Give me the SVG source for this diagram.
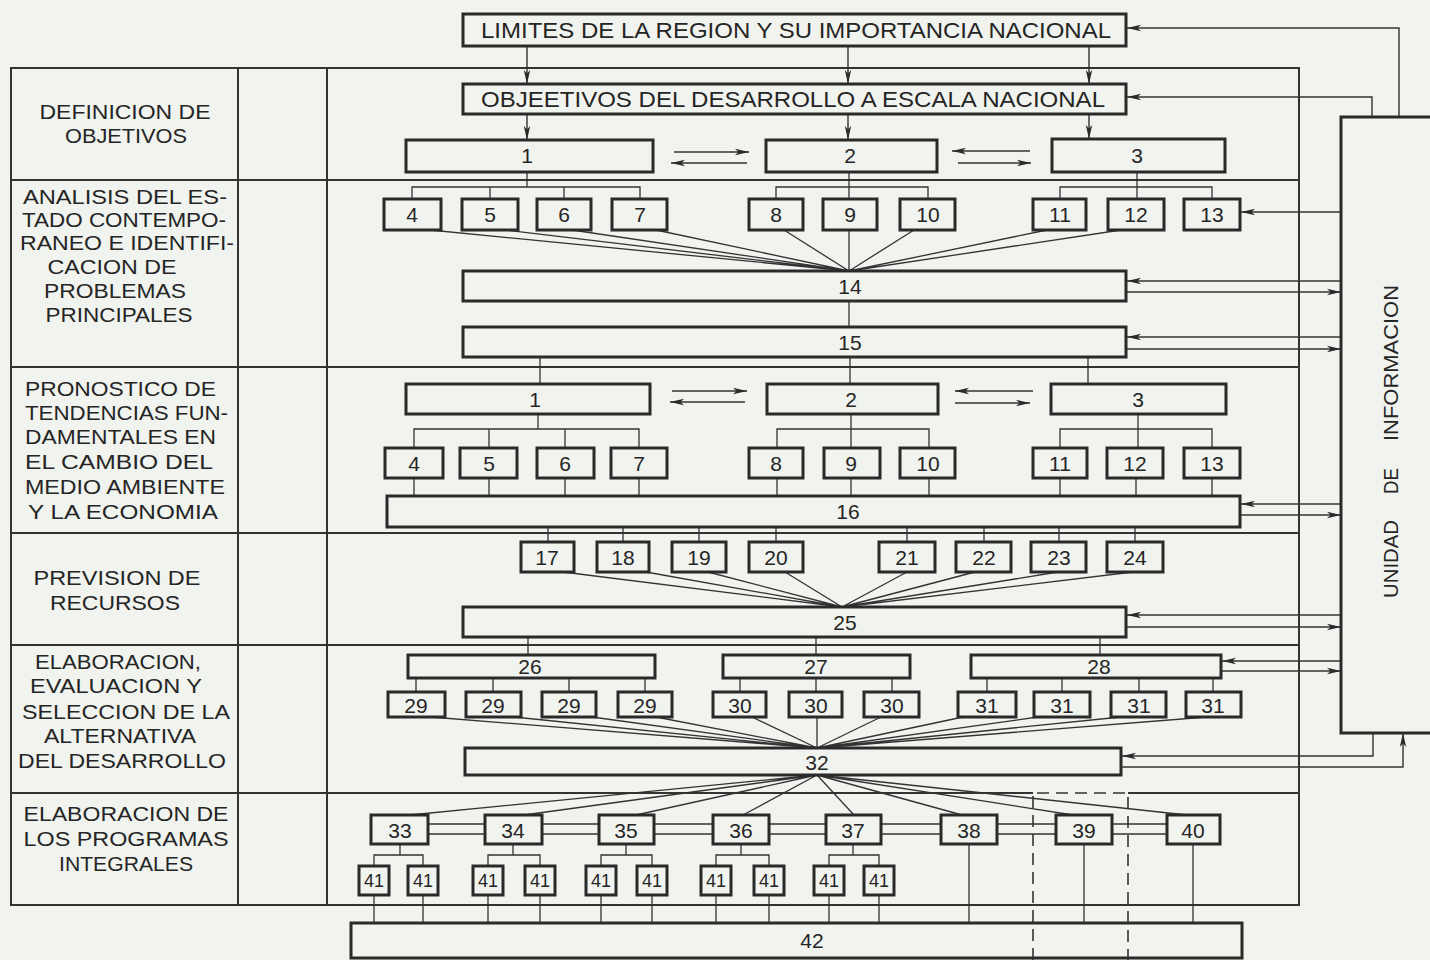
<svg xmlns="http://www.w3.org/2000/svg" width="1430" height="960" viewBox="0 0 1430 960">
<style>
.bg{fill:#f1f3ef}
.box{fill:none;stroke:#2a2a2a;stroke-width:3}
.tbl{fill:none;stroke:#333;stroke-width:2}
.ln{fill:none;stroke:#333;stroke-width:1.3}
.ar{fill:none;stroke:#333;stroke-width:1.4;marker-end:url(#ah)}
.dash{fill:none;stroke:#333;stroke-width:1.6;stroke-dasharray:12 7}
.lbl{font-family:"Liberation Sans",Arial,sans-serif;font-size:20px;fill:#252525;text-anchor:middle}
.lft{font-family:"Liberation Sans",Arial,sans-serif;font-size:20px;fill:#252525}
.big{font-family:"Liberation Sans",Arial,sans-serif;font-size:22px;fill:#252525;text-anchor:middle}
.num{font-family:"Liberation Sans",Arial,sans-serif;font-size:21px;fill:#252525;text-anchor:middle}
.sm{font-family:"Liberation Sans",Arial,sans-serif;font-size:18px;fill:#252525;text-anchor:middle}
.vt{font-family:"Liberation Sans",Arial,sans-serif;font-size:21px;fill:#252525;text-anchor:middle}
</style>
<defs>
<marker id="ah" viewBox="0 0 14 8" refX="14" refY="4" markerWidth="14" markerHeight="8" markerUnits="userSpaceOnUse" orient="auto">
<path d="M0,0.8 L14,4 L0,7.2 L3.5,4 Z" fill="#2a2a2a"/>
</marker>
</defs>
<rect class="bg" x="0" y="0" width="1430" height="960"/>

<g id="table">
<path class="tbl" d="M11,68 H1299 V905 H11 Z"/>
<path class="tbl" d="M238,68 V905 M327,68 V905"/>
<path class="tbl" d="M11,180 H1299 M11,367 H1299 M11,533 H1299 M11,645 H1299 M11,793 H1033 M1128,793 H1299"/>
</g>

<g id="stage-labels">
<text class="lbl" x="125" y="119" textLength="171" lengthAdjust="spacingAndGlyphs">DEFINICION DE</text>
<text class="lbl" x="126" y="143" textLength="122" lengthAdjust="spacingAndGlyphs">OBJETIVOS</text>
<text class="lbl" x="125" y="204" textLength="204" lengthAdjust="spacingAndGlyphs">ANALISIS DEL ES-</text>
<text class="lbl" x="124" y="227" textLength="204" lengthAdjust="spacingAndGlyphs">TADO CONTEMPO-</text>
<text class="lbl" x="127" y="250" textLength="214" lengthAdjust="spacingAndGlyphs">RANEO E IDENTIFI-</text>
<text class="lbl" x="112" y="274" textLength="129" lengthAdjust="spacingAndGlyphs">CACION DE</text>
<text class="lbl" x="115" y="298" textLength="142" lengthAdjust="spacingAndGlyphs">PROBLEMAS</text>
<text class="lbl" x="119" y="322" textLength="147" lengthAdjust="spacingAndGlyphs">PRINCIPALES</text>
<text class="lft" x="25" y="396" textLength="191" lengthAdjust="spacingAndGlyphs">PRONOSTICO DE</text>
<text class="lft" x="25" y="420" textLength="203" lengthAdjust="spacingAndGlyphs">TENDENCIAS FUN-</text>
<text class="lft" x="25" y="444" textLength="191" lengthAdjust="spacingAndGlyphs">DAMENTALES EN</text>
<text class="lft" x="25" y="469" textLength="188" lengthAdjust="spacingAndGlyphs">EL  CAMBIO DEL</text>
<text class="lft" x="25" y="494" textLength="200" lengthAdjust="spacingAndGlyphs">MEDIO AMBIENTE</text>
<text class="lft" x="28" y="519" textLength="190" lengthAdjust="spacingAndGlyphs">Y LA ECONOMIA</text>
<text class="lbl" x="117" y="585" textLength="167" lengthAdjust="spacingAndGlyphs">PREVISION DE</text>
<text class="lbl" x="115" y="610" textLength="130" lengthAdjust="spacingAndGlyphs">RECURSOS</text>
<text class="lbl" x="118" y="669" textLength="166" lengthAdjust="spacingAndGlyphs">ELABORACION,</text>
<text class="lbl" x="116" y="693" textLength="172" lengthAdjust="spacingAndGlyphs">EVALUACION Y</text>
<text class="lbl" x="126" y="719" textLength="208" lengthAdjust="spacingAndGlyphs">SELECCION DE LA</text>
<text class="lbl" x="120" y="743" textLength="152" lengthAdjust="spacingAndGlyphs">ALTERNATIVA</text>
<text class="lbl" x="122" y="768" textLength="208" lengthAdjust="spacingAndGlyphs">DEL DESARROLLO</text>
<text class="lbl" x="126" y="821" textLength="205" lengthAdjust="spacingAndGlyphs">ELABORACION DE</text>
<text class="lbl" x="126" y="846" textLength="205" lengthAdjust="spacingAndGlyphs">LOS PROGRAMAS</text>
<text class="lbl" x="126" y="871" textLength="134" lengthAdjust="spacingAndGlyphs">INTEGRALES</text>
</g>

<g id="connectors">
<path class="ar" d="M527,46 V84"/>
<path class="ar" d="M848,46 V84"/>
<path class="ar" d="M1089,46 V84"/>
<path class="ar" d="M527,114 V140"/>
<path class="ar" d="M848,114 V140"/>
<path class="ar" d="M1089,114 V139"/>
<path class="ar" d="M674,152 H749"/>
<path class="ar" d="M747,163 H671"/>
<path class="ar" d="M1030,151 H952"/>
<path class="ar" d="M958,163 H1031"/>
<path class="ln" d="M527,172 V187 M412,199 V187 H640 V199 M490,187 V199 M564,187 V199"/>
<path class="ln" d="M849,172 V199 M776,199 V187 H928 V199"/>
<path class="ln" d="M1137,172 V199 M1060,199 V187 H1212 V199"/>
<path class="ln" d="M430,230 L849,271 M505,230 L849,271 M572,230 L849,271 M656,230 L849,271 M784,230 L849,271 M849,230 L849,271 M914,230 L849,271 M1047,230 L849,271 M1121,230 L849,271"/>
<path class="ln" d="M849,301 V327"/>
<path class="ln" d="M540,357 V384 M850,357 V384 M1088,357 V384"/>
<path class="ar" d="M672,391 H747"/>
<path class="ar" d="M745,402 H670"/>
<path class="ar" d="M1033,391 H955"/>
<path class="ar" d="M955,403 H1030"/>
<path class="ln" d="M538,414 V429 M414,448 V429 H639 V448 M489,429 V448 M565,429 V448"/>
<path class="ln" d="M851,414 V448 M777,448 V429 H929 V448"/>
<path class="ln" d="M1138,414 V448 M1060,448 V429 H1212 V448"/>
<path class="ln" d="M414,478 V496 M489,478 V496 M565,478 V496 M639,478 V496 M777,478 V496 M851,478 V496 M929,478 V496 M1060,478 V496 M1136,478 V496 M1212,478 V496"/>
<path class="ln" d="M548,527 V542 M623,527 V542 M699,527 V542 M776,527 V542 M907,527 V542 M984,527 V542 M1059,527 V542 M1135,527 V542"/>
<path class="ln" d="M563,572 L842,607 M646,572 L842,607 M708,572 L842,607 M785,572 L842,607 M907,572 L842,607 M975,572 L842,607 M1058,572 L842,607 M1133,572 L842,607"/>
<path class="ln" d="M528,637 V655 M816,637 V655 M1100,637 V655"/>
<path class="ln" d="M416,678 V692 M493,678 V692 M569,678 V692 M645,678 V692 M740,678 V692 M816,678 V692 M892,678 V692 M987,678 V692 M1062,678 V692 M1139,678 V692 M1213,678 V692"/>
<path class="ln" d="M431,717 L817,748 M514,717 L817,748 M592,717 L817,748 M656,717 L817,748 M752,717 L817,748 M817,717 L817,748 M881,717 L817,748 M963,717 L817,748 M1038,717 L817,748 M1121,717 L817,748 M1207,717 L817,748"/>
<path class="ln" d="M817,775 L410,815 M817,775 L524,815 M817,775 L636,815 M817,775 L743,815 M817,775 L854,815 M817,775 L962,815 M817,775 L1073,815 M817,775 L1187,815"/>
<path class="ln" d="M428,824 H485 M428,834 H485 M542,824 H599 M542,834 H599 M654,824 H713 M654,834 H713 M769,824 H826 M769,834 H826 M881,824 H941 M881,834 H941 M997,824 H1056 M997,834 H1056 M1112,824 H1167 M1112,834 H1167"/>
<path class="ln" d="M400,844 V855 M374,866 V855 H423 V866 M513,844 V855 M488,866 V855 H540 V866 M626,844 V855 M601,866 V855 H652 V866 M741,844 V855 M716,866 V855 H769 V866 M853,844 V855 M829,866 V855 H879 V866"/>
<path class="ln" d="M374,895 V923 M423,895 V923 M488,895 V923 M540,895 V923 M601,895 V923 M652,895 V923 M716,895 V923 M769,895 V923 M829,895 V923 M879,895 V923 M969,844 V923 M1084,844 V923 M1193,844 V923"/>
<path class="dash" d="M1033,960 V793 H1128 V960"/>
<path class="ar" d="M1399,117 V28 H1127"/>
<path class="ar" d="M1372,117 V97 H1127"/>
<path class="ar" d="M1341,212 H1241"/>
<path class="ar" d="M1341,281 H1127"/>
<path class="ar" d="M1127,292 H1341"/>
<path class="ar" d="M1341,337 H1127"/>
<path class="ar" d="M1127,349 H1341"/>
<path class="ar" d="M1341,504 H1241"/>
<path class="ar" d="M1241,515 H1341"/>
<path class="ar" d="M1341,615 H1127"/>
<path class="ar" d="M1127,627 H1341"/>
<path class="ar" d="M1341,661 H1222"/>
<path class="ar" d="M1222,671 H1341"/>
<path class="ar" d="M1373,733 V756 H1122"/>
<path class="ar" d="M1122,767 H1403 V733"/>
</g>

<g id="n-limites"><rect class="box" x="463" y="14" width="663" height="32"/><text class="big" x="796" y="38" textLength="630" lengthAdjust="spacingAndGlyphs">LIMITES DE LA REGION Y SU IMPORTANCIA NACIONAL</text></g>
<g id="n-objetivos"><rect class="box" x="463" y="84" width="663" height="30"/><text class="big" x="793" y="107" textLength="624" lengthAdjust="spacingAndGlyphs">OBJEETIVOS DEL DESARROLLO  A ESCALA NACIONAL</text></g>
<g id="n-unidad"><rect class="box" x="1341" y="117" width="100" height="616"/>
<text class="vt" transform="translate(1398,559) rotate(-90)" textLength="78" lengthAdjust="spacingAndGlyphs">UNIDAD</text>
<text class="vt" transform="translate(1398,481) rotate(-90)" textLength="26" lengthAdjust="spacingAndGlyphs">DE</text>
<text class="vt" transform="translate(1398,363) rotate(-90)" textLength="156" lengthAdjust="spacingAndGlyphs">INFORMACION</text></g>

<g id="n-1a"><rect class="box" x="406" y="140" width="247" height="32"/><text class="num" x="527" y="163">1</text></g>
<g id="n-2a"><rect class="box" x="766" y="140" width="171" height="32"/><text class="num" x="850" y="163">2</text></g>
<g id="n-3a"><rect class="box" x="1052" y="139" width="173" height="33"/><text class="num" x="1137" y="163">3</text></g>

<g id="n-4a"><rect class="box" x="384" y="199" width="57" height="31"/><text class="num" x="412" y="222">4</text></g>
<g id="n-5a"><rect class="box" x="462" y="199" width="56" height="31"/><text class="num" x="490" y="222">5</text></g>
<g id="n-6a"><rect class="box" x="537" y="199" width="54" height="31"/><text class="num" x="564" y="222">6</text></g>
<g id="n-7a"><rect class="box" x="612" y="199" width="55" height="31"/><text class="num" x="640" y="222">7</text></g>
<g id="n-8a"><rect class="box" x="749" y="199" width="54" height="31"/><text class="num" x="776" y="222">8</text></g>
<g id="n-9a"><rect class="box" x="823" y="199" width="54" height="31"/><text class="num" x="850" y="222">9</text></g>
<g id="n-10a"><rect class="box" x="900" y="199" width="55" height="31"/><text class="num" x="928" y="222">10</text></g>
<g id="n-11a"><rect class="box" x="1033" y="199" width="53" height="31"/><text class="num" x="1060" y="222">11</text></g>
<g id="n-12a"><rect class="box" x="1108" y="199" width="56" height="31"/><text class="num" x="1136" y="222">12</text></g>
<g id="n-13a"><rect class="box" x="1184" y="199" width="56" height="31"/><text class="num" x="1212" y="222">13</text></g>

<g id="n-14"><rect class="box" x="463" y="271" width="663" height="30"/><text class="num" x="850" y="294">14</text></g>
<g id="n-15"><rect class="box" x="463" y="327" width="663" height="30"/><text class="num" x="850" y="350">15</text></g>

<g id="n-1b"><rect class="box" x="406" y="384" width="244" height="30"/><text class="num" x="535" y="407">1</text></g>
<g id="n-2b"><rect class="box" x="767" y="384" width="171" height="30"/><text class="num" x="851" y="407">2</text></g>
<g id="n-3b"><rect class="box" x="1051" y="384" width="175" height="30"/><text class="num" x="1138" y="407">3</text></g>

<g id="n-4b"><rect class="box" x="385" y="448" width="58" height="30"/><text class="num" x="414" y="471">4</text></g>
<g id="n-5b"><rect class="box" x="460" y="448" width="57" height="30"/><text class="num" x="489" y="471">5</text></g>
<g id="n-6b"><rect class="box" x="537" y="448" width="57" height="30"/><text class="num" x="565" y="471">6</text></g>
<g id="n-7b"><rect class="box" x="611" y="448" width="56" height="30"/><text class="num" x="639" y="471">7</text></g>
<g id="n-8b"><rect class="box" x="749" y="448" width="54" height="30"/><text class="num" x="776" y="471">8</text></g>
<g id="n-9b"><rect class="box" x="824" y="448" width="56" height="30"/><text class="num" x="851" y="471">9</text></g>
<g id="n-10b"><rect class="box" x="900" y="448" width="55" height="30"/><text class="num" x="928" y="471">10</text></g>
<g id="n-11b"><rect class="box" x="1033" y="448" width="54" height="30"/><text class="num" x="1060" y="471">11</text></g>
<g id="n-12b"><rect class="box" x="1107" y="448" width="56" height="30"/><text class="num" x="1135" y="471">12</text></g>
<g id="n-13b"><rect class="box" x="1184" y="448" width="56" height="30"/><text class="num" x="1212" y="471">13</text></g>

<g id="n-16"><rect class="box" x="387" y="496" width="853" height="31"/><text class="num" x="848" y="519">16</text></g>

<g id="n-17"><rect class="box" x="521" y="542" width="53" height="30"/><text class="num" x="547" y="565">17</text></g>
<g id="n-18"><rect class="box" x="597" y="542" width="52" height="30"/><text class="num" x="623" y="565">18</text></g>
<g id="n-19"><rect class="box" x="672" y="542" width="54" height="30"/><text class="num" x="699" y="565">19</text></g>
<g id="n-20"><rect class="box" x="749" y="542" width="54" height="30"/><text class="num" x="776" y="565">20</text></g>
<g id="n-21"><rect class="box" x="879" y="542" width="56" height="30"/><text class="num" x="907" y="565">21</text></g>
<g id="n-22"><rect class="box" x="956" y="542" width="55" height="30"/><text class="num" x="984" y="565">22</text></g>
<g id="n-23"><rect class="box" x="1031" y="542" width="55" height="30"/><text class="num" x="1059" y="565">23</text></g>
<g id="n-24"><rect class="box" x="1107" y="542" width="56" height="30"/><text class="num" x="1135" y="565">24</text></g>

<g id="n-25"><rect class="box" x="463" y="607" width="663" height="30"/><text class="num" x="845" y="630">25</text></g>

<g id="n-26"><rect class="box" x="408" y="655" width="247" height="23"/><text class="num" x="530" y="674">26</text></g>
<g id="n-27"><rect class="box" x="723" y="655" width="187" height="23"/><text class="num" x="816" y="674">27</text></g>
<g id="n-28"><rect class="box" x="971" y="655" width="250" height="23"/><text class="num" x="1099" y="674">28</text></g>

<g id="n-29a"><rect class="box" x="388" y="692" width="57" height="25"/><text class="num" x="416" y="713">29</text></g>
<g id="n-29b"><rect class="box" x="466" y="692" width="55" height="25"/><text class="num" x="493" y="713">29</text></g>
<g id="n-29c"><rect class="box" x="542" y="692" width="54" height="25"/><text class="num" x="569" y="713">29</text></g>
<g id="n-29d"><rect class="box" x="618" y="692" width="54" height="25"/><text class="num" x="645" y="713">29</text></g>
<g id="n-30a"><rect class="box" x="713" y="692" width="53" height="25"/><text class="num" x="740" y="713">30</text></g>
<g id="n-30b"><rect class="box" x="789" y="692" width="53" height="25"/><text class="num" x="816" y="713">30</text></g>
<g id="n-30c"><rect class="box" x="864" y="692" width="55" height="25"/><text class="num" x="892" y="713">30</text></g>
<g id="n-31a"><rect class="box" x="958" y="692" width="58" height="25"/><text class="num" x="987" y="713">31</text></g>
<g id="n-31b"><rect class="box" x="1034" y="692" width="56" height="25"/><text class="num" x="1062" y="713">31</text></g>
<g id="n-31c"><rect class="box" x="1111" y="692" width="55" height="25"/><text class="num" x="1139" y="713">31</text></g>
<g id="n-31d"><rect class="box" x="1186" y="692" width="55" height="25"/><text class="num" x="1213" y="713">31</text></g>

<g id="n-32"><rect class="box" x="465" y="748" width="656" height="27"/><text class="num" x="817" y="770">32</text></g>

<g id="n-33"><rect class="box" x="371" y="815" width="57" height="29"/><text class="num" x="400" y="838">33</text></g>
<g id="n-34"><rect class="box" x="485" y="815" width="57" height="29"/><text class="num" x="513" y="838">34</text></g>
<g id="n-35"><rect class="box" x="599" y="815" width="55" height="29"/><text class="num" x="626" y="838">35</text></g>
<g id="n-36"><rect class="box" x="713" y="815" width="56" height="29"/><text class="num" x="741" y="838">36</text></g>
<g id="n-37"><rect class="box" x="826" y="815" width="55" height="29"/><text class="num" x="853" y="838">37</text></g>
<g id="n-38"><rect class="box" x="941" y="815" width="56" height="29"/><text class="num" x="969" y="838">38</text></g>
<g id="n-39"><rect class="box" x="1056" y="815" width="56" height="29"/><text class="num" x="1084" y="838">39</text></g>
<g id="n-40"><rect class="box" x="1167" y="815" width="53" height="29"/><text class="num" x="1193" y="838">40</text></g>

<g id="n-41a"><rect class="box" x="359" y="866" width="30" height="29"/><text class="sm" x="374" y="887">41</text></g>
<g id="n-41b"><rect class="box" x="408" y="866" width="30" height="29"/><text class="sm" x="423" y="887">41</text></g>
<g id="n-41c"><rect class="box" x="473" y="866" width="30" height="29"/><text class="sm" x="488" y="887">41</text></g>
<g id="n-41d"><rect class="box" x="525" y="866" width="30" height="29"/><text class="sm" x="540" y="887">41</text></g>
<g id="n-41e"><rect class="box" x="586" y="866" width="30" height="29"/><text class="sm" x="601" y="887">41</text></g>
<g id="n-41f"><rect class="box" x="637" y="866" width="30" height="29"/><text class="sm" x="652" y="887">41</text></g>
<g id="n-41g"><rect class="box" x="701" y="866" width="30" height="29"/><text class="sm" x="716" y="887">41</text></g>
<g id="n-41h"><rect class="box" x="754" y="866" width="30" height="29"/><text class="sm" x="769" y="887">41</text></g>
<g id="n-41i"><rect class="box" x="814" y="866" width="30" height="29"/><text class="sm" x="829" y="887">41</text></g>
<g id="n-41j"><rect class="box" x="864" y="866" width="30" height="29"/><text class="sm" x="879" y="887">41</text></g>

<g id="n-42"><rect class="box" x="351" y="923" width="891" height="35"/><text class="num" x="812" y="948">42</text></g>
</svg>
